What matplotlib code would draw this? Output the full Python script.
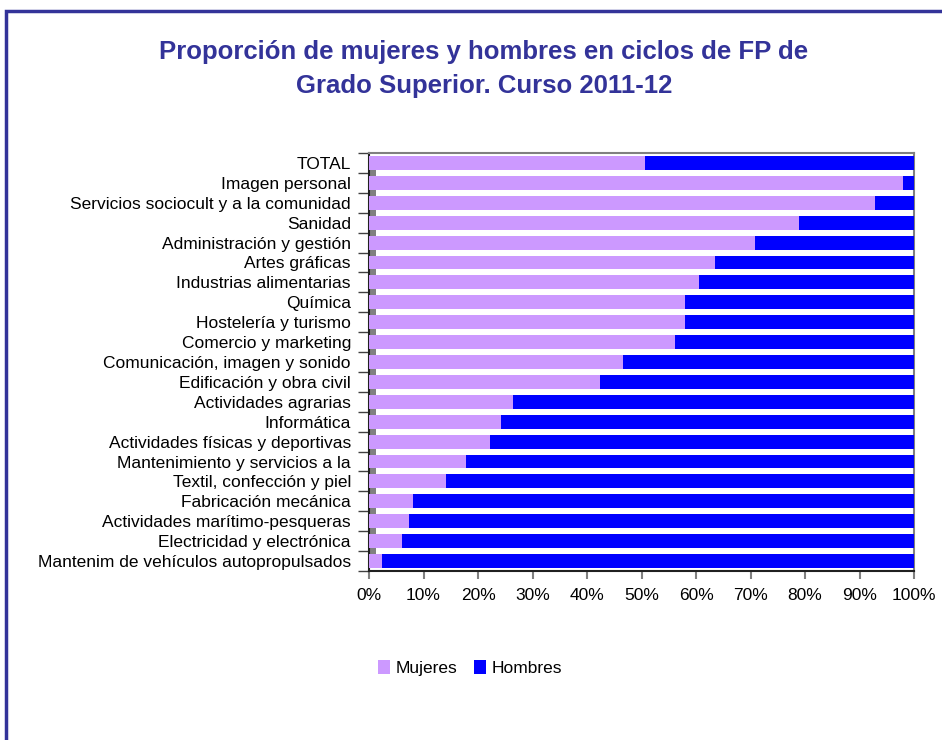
import matplotlib
matplotlib.use("Agg")
import matplotlib.pyplot as plt
from matplotlib.patches import Rectangle
import numpy as np

plt.rcParams['font.family'] = ['Liberation Sans', 'DejaVu Sans']

categories = [
    "TOTAL", "Imagen personal", "Servicios sociocult y a la comunidad", "Sanidad",
    "Administración y gestión", "Artes gráficas", "Industrias alimentarias", "Química",
    "Hostelería y turismo", "Comercio y marketing", "Comunicación, imagen y sonido",
    "Edificación y obra civil", "Actividades agrarias", "Informática",
    "Actividades físicas y deportivas", "Mantenimiento y servicios a la",
    "Textil, confección y piel", "Fabricación mecánica", "Actividades marítimo-pesqueras",
    "Electricidad y electrónica", "Mantenim de vehículos autopropulsados",
]
mujeres = [50.6, 98.0, 92.8, 78.9, 70.8, 63.5, 60.6, 58.0, 58.0, 56.1, 46.6,
           42.4, 26.4, 24.2, 22.2, 17.8, 14.1, 8.1, 7.3, 6.1, 2.4]
hombres = [100 - m for m in mujeres]
xticks = [0, 10, 20, 30, 40, 50, 60, 70, 80, 90, 100]
xticklabels = [f"{t}%" for t in xticks]

C_MUJ = "#CC99FF"
C_HOM = "#0000FF"
FRAME = "#333399"
FS = 12.5

W, H = 942, 740
fig = plt.figure(figsize=(W / 100, H / 100), dpi=100)

# outer frame (left and top visible)
fig.patches.append(Rectangle((6 / W, -0.1), 1.2, (H - 11) / H + 0.1, transform=fig.transFigure,
                             fill=False, edgecolor=FRAME, linewidth=2.5, zorder=10))

fig.text(484 / W, 1 - 52 / H, "Proporción de mujeres y hombres en ciclos de FP de",
         ha="center", va="center", fontsize=18.5, fontweight="bold", color=FRAME)
fig.text(484 / W, 1 - 86 / H, "Grado Superior. Curso 2011-12",
         ha="center", va="center", fontsize=18.5, fontweight="bold", color=FRAME)

left, right = 369, 914
top, bottom = 153, 571
ax = fig.add_axes([left / W, 1 - bottom / H, (right - left) / W, (bottom - top) / H])

n = len(categories)
y = np.arange(n)
ax.barh(y, mujeres, height=0.7, color=C_MUJ, label="Mujeres", zorder=3)
ax.barh(y, hombres, left=mujeres, height=0.7, color=C_HOM, label="Hombres", zorder=3)
# 3D side-wall artefacts between bars
ax.barh(y[:-1] + 0.5, [1.2] * (n - 1), height=0.34, color="#808080", zorder=2)

ax.set_xlim(0, 100)
ax.set_ylim(n - 0.5, -0.5)
ax.set_xticks(xticks)
ax.set_xticklabels(xticklabels, fontsize=FS)
ax.set_yticks(y)
ax.set_yticklabels(categories, fontsize=FS)
ax.set_yticks(np.arange(-0.5, n, 1), minor=True)
ax.tick_params(axis="y", which="major", length=0, pad=13)
ax.tick_params(axis="y", which="minor", length=8, color="#404040", width=1)
ax.tick_params(axis="x", which="major", length=6, color="#808080", width=1.5, pad=6)

for s in ["top", "right"]:
    ax.spines[s].set_color("#808080")
    ax.spines[s].set_linewidth(1.5)
ax.spines["left"].set_color("#202020")
ax.spines["left"].set_linewidth(1.5)
ax.spines["bottom"].set_color("#202020")
ax.spines["bottom"].set_linewidth(1.5)

handles, labels = ax.get_legend_handles_labels()
fig.legend(handles[:2], labels[:2], loc="center", bbox_to_anchor=(470 / W, 1 - 668 / H), ncol=2,
           frameon=False, fontsize=FS, handlelength=0.7, handleheight=0.9, handletextpad=0.3,
           columnspacing=1.0)

fig.savefig("out.png", dpi=100, facecolor="white")
